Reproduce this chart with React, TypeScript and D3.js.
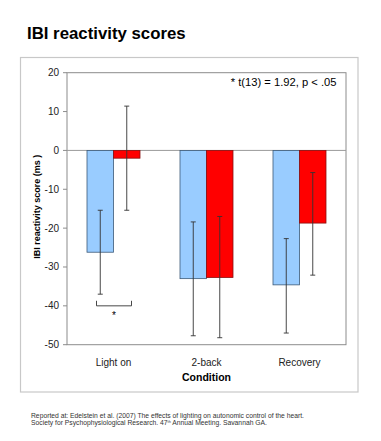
import React from "react";
import * as d3 from "d3";

const categories = ["Light on", "2-back", "Recovery"];
const seriesNames = ["Lights off", "Lights on"];
const blueValues = [-26.2, -33.0, -34.6];
const blueErrLow = [-37.0, -47.7, -47.0];
const blueErrHigh = [-15.4, -18.4, -22.7];
const redValues = [-2.0, -32.7, -18.7];
const redErrLow = [-15.4, -48.2, -32.1];
const redErrHigh = [11.4, -17.0, -5.7];
const yTicks = [20, 10, 0, -10, -20, -30, -40, -50];

const W = 381, H = 441;
const plot = { left: 67, right: 346, top: 72.7, bottom: 344.7 };
const font = "'Liberation Sans', Arial, sans-serif";

export default function App() {
  const y = d3.scaleLinear().domain([-50, 20]).range([plot.bottom, plot.top]);
  const x = d3.scaleBand().domain(categories).range([plot.left, plot.right]);
  const barW = 26.5;
  const series = [
    { vals: blueValues, lo: blueErrLow, hi: blueErrHigh, fill: "#99ccff", stroke: "#3c5a78" },
    { vals: redValues, lo: redErrLow, hi: redErrHigh, fill: "#ff0000", stroke: "#8a1010" },
  ];
  const cap = 2.5;
  const c0 = x(categories[0])! + x.bandwidth() / 2;
  return (
    <svg width={W} height={H} style={{ position: "absolute", left: 0, top: 0, background: "#fff" }}>
      <text x={27} y={39} fontFamily={font} fontWeight="bold" fontSize={16.8} fill="#000">
        IBI reactivity scores
      </text>
      <rect x={20.5} y={57.5} width={337.5} height={334.5} fill="#fff" stroke="#c8c8c8" strokeWidth={1.2} />
      <rect x={plot.left} y={plot.top} width={plot.right - plot.left} height={plot.bottom - plot.top} fill="#fff" stroke="#8c8c8c" strokeWidth={1} />
      <line x1={plot.left} x2={plot.right} y1={y(0)} y2={y(0)} stroke="#9a9a9a" strokeWidth={1} />
      {yTicks.map((t) => (
        <g key={t}>
          <line x1={plot.left - 4} x2={plot.left} y1={y(t)} y2={y(t)} stroke="#8c8c8c" />
          <text x={plot.left - 8} y={y(t)} dy="0.35em" textAnchor="end" fontFamily={font} fontSize={10} fill="#222">
            {t}
          </text>
        </g>
      ))}
      {series.map((s, si) =>
        categories.map((c, i) => {
          const cx = x(c)! + x.bandwidth() / 2 + (si === 0 ? -barW / 2 : barW / 2);
          const y0 = y(0), y1 = y(s.vals[i]);
          return (
            <g key={si + "-" + c}>
              <rect x={cx - barW / 2} y={Math.min(y0, y1)} width={barW} height={Math.abs(y1 - y0)} fill={s.fill} stroke={s.stroke} strokeWidth={0.8} />
              <line x1={cx} x2={cx} y1={y(s.hi[i])} y2={y(s.lo[i])} stroke="#333" strokeWidth={0.9} />
              <line x1={cx - cap} x2={cx + cap} y1={y(s.hi[i])} y2={y(s.hi[i])} stroke="#333" strokeWidth={0.9} />
              <line x1={cx - cap} x2={cx + cap} y1={y(s.lo[i])} y2={y(s.lo[i])} stroke="#333" strokeWidth={0.9} />
            </g>
          );
        })
      )}
      <path
        d={`M${c0 - 17},${y(-38.7)} V${y(-40)} H${c0 + 18} V${y(-38.7)}`}
        fill="none"
        stroke="#333"
        strokeWidth={0.9}
      />
      <text x={c0 + 0.5} y={319} textAnchor="middle" fontFamily={font} fontSize={10} fill="#000">*</text>
      <text x={336.5} y={86} textAnchor="end" fontFamily={font} fontSize={11.2} fill="#000">
        * t(13) = 1.92, p &lt; .05
      </text>
      {categories.map((c) => (
        <text key={c} x={x(c)! + x.bandwidth() / 2} y={366} textAnchor="middle" fontFamily={font} fontSize={10} fill="#222">
          {c}
        </text>
      ))}
      <text x={206.5} y={380.5} textAnchor="middle" fontFamily={font} fontWeight="bold" fontSize={10.5} fill="#000">
        Condition
      </text>
      <text
        transform={`translate(39.5,${(plot.top + plot.bottom) / 2 - 2}) rotate(-90)`}
        textAnchor="middle"
        fontFamily={font}
        fontWeight="bold"
        fontSize={9}
        fill="#000"
      >
        IBI reactivity score (ms )
      </text>
      <text x={31} y={418} fontFamily={font} fontSize={6.75} fill="#333">
        Reported at: Edelstein et al. (2007) The effects of lighting on autonomic control of the heart.
      </text>
      <text x={31} y={424.8} fontFamily={font} fontSize={6.75} fill="#333">
        Society for Psychophysiological Research. 47<tspan fontSize={3.9} dy={-2.2}>th</tspan>
        <tspan dy={2.2}> Annual Meeting. Savannah GA.</tspan>
      </text>
    </svg>
  );
}
